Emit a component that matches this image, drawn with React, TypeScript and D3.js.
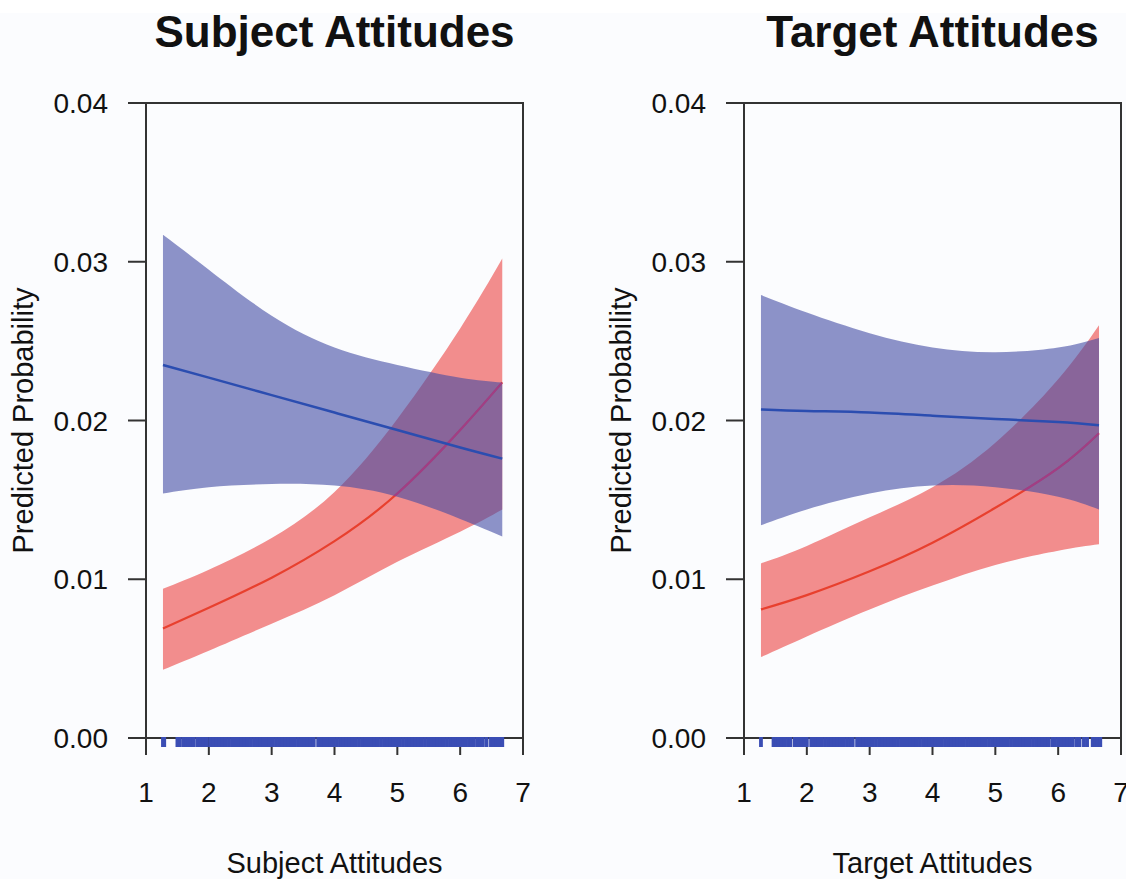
import React from "react";
import * as d3 from "d3";

// ---------- data ----------
const xTicks = [1, 2, 3, 4, 5, 6, 7];
const yTicks = [0, 0.01, 0.02, 0.03, 0.04];

const subjX = [1.27, 2, 3, 4, 5, 6, 6.67];
const subjBlueHi = [0.0317, 0.0295, 0.0266, 0.0246, 0.0235, 0.0227, 0.0224];
const subjBlueFit = [0.0235, 0.0227, 0.0216, 0.0205, 0.0194, 0.0183, 0.0176];
const subjBlueLo = [0.0154, 0.0158, 0.016, 0.0159, 0.0152, 0.0138, 0.0127];
const subjRedHi = [0.0094, 0.0106, 0.0126, 0.0155, 0.0201, 0.0258, 0.0302];
const subjRedFit = [0.0069, 0.0082, 0.0101, 0.0124, 0.0154, 0.0194, 0.0224];
const subjRedLo = [0.0043, 0.0055, 0.0072, 0.009, 0.0111, 0.013, 0.0144];

const targX = [1.27, 2, 3, 4, 5, 6, 6.65];
const targBlueHi = [0.0279, 0.0268, 0.0255, 0.0246, 0.0243, 0.0246, 0.0252];
const targBlueFit = [0.0207, 0.0206, 0.0205, 0.0203, 0.0201, 0.0199, 0.0197];
const targBlueLo = [0.0134, 0.0144, 0.0154, 0.0159, 0.0158, 0.0152, 0.0144];
const targRedHi = [0.011, 0.0121, 0.0139, 0.0158, 0.0186, 0.0226, 0.026];
const targRedFit = [0.0081, 0.009, 0.0105, 0.0123, 0.0145, 0.017, 0.0192];
const targRedLo = [0.0051, 0.0064, 0.0081, 0.0096, 0.0109, 0.0118, 0.0122];

const subjRug = [
  1.27, 1.29, 1.5, 1.54, 1.6, 1.64, 1.67, 1.7, 1.73, 1.76, 1.82, 1.86, 1.89, 1.92, 1.96,
  2.02, 2.07, 2.12, 2.17, 2.22, 2.27, 2.32, 2.37, 2.42, 2.47, 2.52, 2.57, 2.62, 2.67, 2.72,
  2.77, 2.82, 2.87, 2.92, 2.97, 3.02, 3.07, 3.12, 3.17, 3.22, 3.27, 3.32, 3.37, 3.42, 3.47,
  3.52, 3.57, 3.62, 3.67, 3.74, 3.79, 3.84, 3.89, 3.94, 3.99, 4.04, 4.09, 4.14, 4.19, 4.24,
  4.29, 4.34, 4.39, 4.44, 4.49, 4.54, 4.59, 4.64, 4.69, 4.74, 4.79, 4.84, 4.89, 4.94, 4.99,
  5.04, 5.09, 5.14, 5.19, 5.24, 5.29, 5.34, 5.39, 5.44, 5.49, 5.54, 5.59, 5.64, 5.69, 5.74,
  5.79, 5.84, 5.89, 5.94, 5.97, 6.01, 6.05, 6.09, 6.14, 6.18, 6.22, 6.28, 6.32, 6.36, 6.42,
  6.49, 6.53, 6.57, 6.61, 6.64, 6.67,
];
const targRug = [
  1.27, 1.47, 1.51, 1.55, 1.6, 1.65, 1.7, 1.74, 1.81, 1.85, 1.89, 1.92, 1.96, 2.0, 2.07,
  2.11, 2.15, 2.19, 2.24, 2.29, 2.34, 2.39, 2.44, 2.49, 2.54, 2.59, 2.64, 2.69, 2.73, 2.8,
  2.85, 2.9, 2.95, 3.0, 3.05, 3.1, 3.15, 3.2, 3.25, 3.3, 3.35, 3.4, 3.45, 3.5, 3.55, 3.6,
  3.65, 3.7, 3.75, 3.8, 3.85, 3.9, 3.95, 4.0, 4.05, 4.1, 4.15, 4.2, 4.25, 4.3, 4.35, 4.4,
  4.45, 4.5, 4.55, 4.6, 4.65, 4.7, 4.75, 4.8, 4.85, 4.9, 4.95, 5.0, 5.05, 5.1, 5.15, 5.2,
  5.25, 5.3, 5.35, 5.4, 5.45, 5.5, 5.55, 5.6, 5.65, 5.7, 5.75, 5.8, 5.85, 5.91, 5.95, 6.0,
  6.05, 6.1, 6.15, 6.2, 6.23, 6.29, 6.34, 6.41, 6.46, 6.55, 6.59, 6.63, 6.67,
];

const panels = [
  {
    title: "Subject Attitudes",
    xLabel: "Subject Attitudes",
    x: subjX,
    blueHi: subjBlueHi, blueFit: subjBlueFit, blueLo: subjBlueLo,
    redHi: subjRedHi, redFit: subjRedFit, redLo: subjRedLo,
    rug: subjRug,
  },
  {
    title: "Target Attitudes",
    xLabel: "Target Attitudes",
    x: targX,
    blueHi: targBlueHi, blueFit: targBlueFit, blueLo: targBlueLo,
    redHi: targRedHi, redFit: targRedFit, redLo: targRedLo,
    rug: targRug,
  },
];

// ---------- layout ----------
const W = 1126;
const H = 879;
const panelLeft = [146, 744];
const plotW = 377;
const plotTop = 103;
const plotBottom = 738;
const FONT = "'Liberation Sans', Arial, Helvetica, sans-serif";

const RED_FILL = "#f28d8d";
const RED_LINE = "#e8402e";
const BLUE_FILL = "rgb(66,75,164)";
const BLUE_OP = 0.6;
const BLUE_LINE = "#2b4db0";
const RUG = "#3a4db4";
const AXIS = "#333";

const fmt = d3.format(".2f");

function Panel({ p, left, id }: { p: any; left: number; id: string }) {
  const x = d3.scaleLinear().domain([1, 7]).range([left, left + plotW]);
  const y = d3.scaleLinear().domain([0, 0.04]).range([plotBottom, plotTop]);
  const idx = p.x.map((_: number, i: number) => i);

  const band = (lo: number[], hi: number[]) =>
    d3
      .area<number>()
      .x((i) => x(p.x[i]))
      .y0((i) => y(lo[i]))
      .y1((i) => y(hi[i]))
      .curve(d3.curveNatural)(idx) as string;
  const line = (v: number[]) =>
    d3
      .line<number>()
      .x((i) => x(p.x[i]))
      .y((i) => y(v[i]))
      .curve(d3.curveNatural)(idx) as string;

  const cx = left + plotW / 2;
  const cy = (plotTop + plotBottom) / 2;
  const blueBand = band(p.blueLo, p.blueHi);

  return (
    <g>
      <defs>
        <clipPath id={id}>
          <path d={blueBand} />
        </clipPath>
      </defs>
      <text x={cx} y={47} textAnchor="middle" fontFamily={FONT} fontWeight="bold" fontSize={44} fill="#111">
        {p.title}
      </text>

      <path d={band(p.redLo, p.redHi)} fill={RED_FILL} />
      <path d={line(p.redFit)} fill="none" stroke={RED_LINE} strokeWidth={2.2} />
      <path d={blueBand} fill={BLUE_FILL} fillOpacity={BLUE_OP} />
      <path
        d={line(p.redFit)}
        fill="none"
        stroke="#d0309a"
        strokeOpacity={0.4}
        strokeWidth={2}
        clipPath={`url(#${id})`}
      />
      <path d={line(p.blueFit)} fill="none" stroke={BLUE_LINE} strokeWidth={2.5} />

      {/* box */}
      <rect x={left} y={plotTop} width={plotW} height={plotBottom - plotTop} fill="none" stroke={AXIS} strokeWidth={2} />

      {/* y axis */}
      {yTicks.map((t) => (
        <g key={"y" + t}>
          <line x1={left - 18} x2={left} y1={y(t)} y2={y(t)} stroke={AXIS} strokeWidth={2} />
          <text x={left - 38} y={y(t)} dy="0.36em" textAnchor="end" fontFamily={FONT} fontSize={28} fill="#111">
            {fmt(t)}
          </text>
        </g>
      ))}

      {/* x axis */}
      {xTicks.map((t) => (
        <g key={"x" + t}>
          <line x1={x(t)} x2={x(t)} y1={plotBottom} y2={plotBottom + 17} stroke={AXIS} strokeWidth={2} />
          <text x={x(t)} y={802} textAnchor="middle" fontFamily={FONT} fontSize={28} fill="#111">
            {t}
          </text>
        </g>
      ))}

      {/* rug */}
      {p.rug.map((v: number, i: number) => (
        <line key={"r" + i} x1={x(v)} x2={x(v)} y1={plotBottom - 1} y2={plotBottom + 9} stroke={RUG} strokeWidth={3.8} />
      ))}

      <text x={cx} y={873} textAnchor="middle" fontFamily={FONT} fontSize={29} fill="#111">
        {p.xLabel}
      </text>
      <text
        transform={`translate(${left - 113},${cy}) rotate(-90)`}
        textAnchor="middle"
        fontFamily={FONT}
        fontSize={29}
        fill="#111"
      >
        Predicted Probability
      </text>
    </g>
  );
}

export default function App() {
  return (
    <svg
      width={W}
      height={H}
      style={{ position: "fixed", left: 0, top: 0, display: "block" }}
      xmlns="http://www.w3.org/2000/svg"
    >
      <rect x={0} y={0} width={W} height={H} fill="#ffffff" />
      <rect x={0} y={13} width={W} height={H - 13} fill="#fbfcfe" />
      {panels.map((p, i) => (
        <Panel key={i} p={p} left={panelLeft[i]} id={"blueclip" + i} />
      ))}
    </svg>
  );
}
